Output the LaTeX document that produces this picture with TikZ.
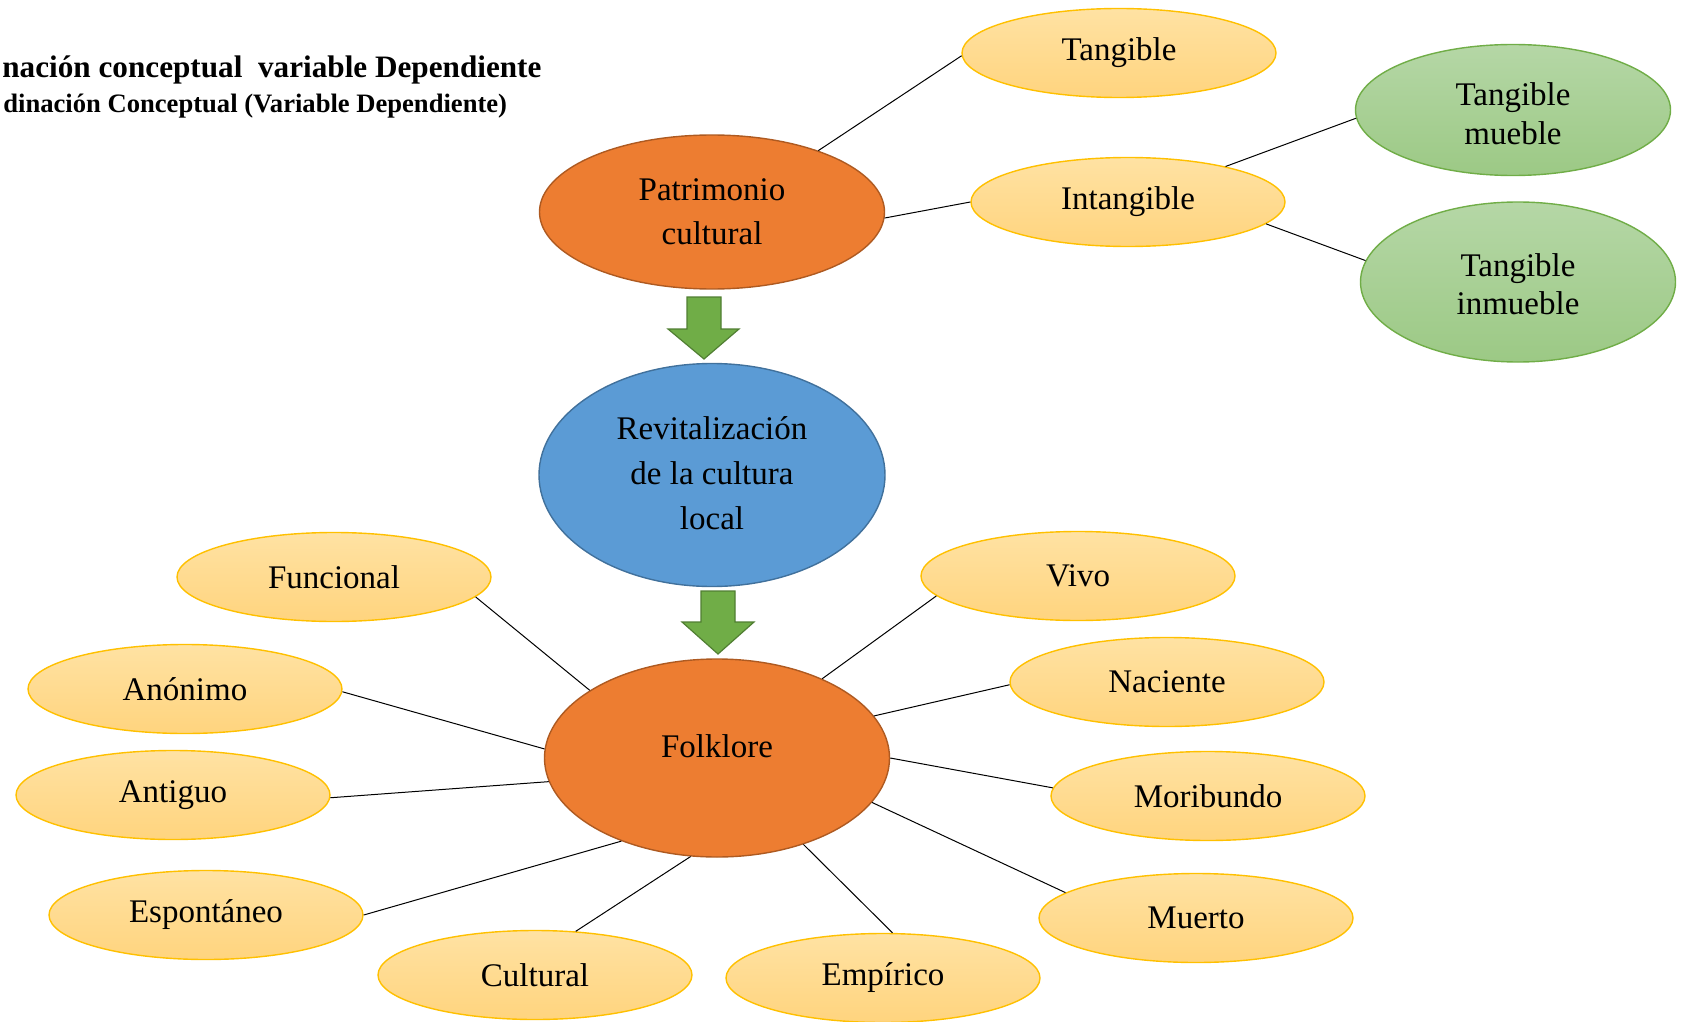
\documentclass[tikz,border=0pt]{standalone}
\usepackage{fontspec}
\setmainfont{Liberation Serif}
\usetikzlibrary{shapes.geometric}
\definecolor{orfill}{HTML}{ED7D31}
\definecolor{ordraw}{HTML}{AE5A21}
\definecolor{leaftop}{HTML}{FFE2A3}
\definecolor{leafbot}{HTML}{FFD47E}
\definecolor{leafdraw}{HTML}{FFC000}
\definecolor{grtop}{HTML}{B5D7A6}
\definecolor{grbot}{HTML}{9CC985}
\definecolor{grdraw}{HTML}{70AD47}
\definecolor{blfill}{HTML}{5B9BD5}
\definecolor{bldraw}{HTML}{41719C}
\definecolor{arfill}{HTML}{70AD47}
\definecolor{ardraw}{HTML}{507E32}
\begin{document}
\begin{tikzpicture}[x=0.5pt,y=-0.5pt,
  base/.style={ellipse, inner sep=0pt, align=center, font=\fontsize{16.5}{20}\selectfont, line width=0.7pt},
  leaf/.style={base, top color=leaftop, bottom color=leafbot, draw=leafdraw, minimum width=157pt, minimum height=44.5pt},
  green/.style={base, top color=grtop, bottom color=grbot, draw=grdraw, minimum width=157.5pt},
  orange/.style={base, fill=orfill, draw=ordraw, minimum width=172.5pt},
  blue/.style={base, fill=blfill, draw=bldraw, minimum width=173pt, minimum height=111.5pt},
  txt/.style={inner sep=0pt, align=center, font=\fontsize{16.5}{20}\selectfont},
  link/.style={draw=black, line width=0.5pt},
  blockarrow/.style={fill=arfill, draw=ardraw, line width=0.6pt}
]
\useasboundingbox (0,0) rectangle (1682,1022);

% title
\node[anchor=west, inner sep=0pt, font=\bfseries\fontsize{15.6}{19}\selectfont] (title1) at (2,70) {nación conceptual\ \ variable Dependiente};
\node[anchor=west, inner sep=0pt, font=\bfseries\fontsize{13.3}{16}\selectfont] (title2) at (3,106) {dinación Conceptual (Variable Dependiente)};

% upper part
\node[orange, minimum height=77pt, font=\fontsize{16.5}{22}\selectfont] (pat) at (712,212) {Patrimonio\\cultural};
\node[leaf] (tang) at (1119,53) {Tangible};
\node[leaf] (intang) at (1128,202) {Intangible};
\node[green, minimum height=65.5pt] (mueble) at (1513,110) {};
\node[txt, font=\fontsize{16.5}{19.3}\selectfont] (muebletext) at (1513,114) {Tangible\\mueble};
\node[green, minimum height=80pt] (inmueble) at (1518,282) {};
\node[txt, font=\fontsize{16.5}{18.8}\selectfont] (inmuebletext) at (1518,284) {Tangible\\inmueble};

\draw[link] (pat.30) -- (tang.181);
\draw[link] (pat.-2) -- (intang.180);
\draw[link] (intang.20.6) -- (mueble.183);
\draw[link] (intang.-9.5) -- (inmueble.172.7);

% arrow 1
\draw[blockarrow] (687,297) -- (721,297) -- (721,329) -- (739,329) -- (704,359) -- (668,329) -- (687,329) -- cycle;

% middle
\node[blue] (revit) at (712,475) {};
\node[txt, font=\fontsize{16.5}{22.5}\selectfont] (revittext) at (712,473) {Revitalización\\de la cultura\\local};

% arrow 2
\draw[blockarrow] (701,591) -- (735,591) -- (735,622) -- (754,622) -- (718,654) -- (682,622) -- (701,622) -- cycle;

% folklore
\node[orange, minimum height=99pt] (folk) at (717,758) {};
\node[txt] (folktext) at (717,746) {Folklore};

\node[leaf] (funcional) at (334,577) {Funcional};
\node[leaf] (anonimo) at (185,689) {Anónimo};
\node[leaf] (antiguo) at (173,795) {Antiguo};
\node[leaf] (espontaneo) at (206,915) {Espontáneo};
\node[leaf] (cultural) at (535,975) {Cultural};
\node[leaf] (empirico) at (883,978) {Empírico};
\node[leaf] (vivo) at (1078,576) {Vivo};
\node[leaf] (naciente) at (1167,682) {Naciente};
\node[leaf] (moribundo) at (1208,796) {Moribundo};
\node[leaf] (muerto) at (1196,918) {Muerto};

\draw[link] (folk.152.4) -- (funcional.-8.1);
\draw[link] (folk.177.5) -- (anonimo.-1.2);
\draw[link] (folk.188) -- (antiguo.-1.6);
\draw[link] (folk.221.6) -- (espontaneo.0.4);
\draw[link] (folk.255.7) -- (cultural.47);
\draw[link] (folk.-45) -- (empirico.78);
\draw[link] (folk.37) -- (vivo.188.6);
\draw[link] (folk.15.5) -- (naciente.181.2);
\draw[link] (folk.0.3) -- (moribundo.177.6);
\draw[link] (folk.-16.9) -- (muerto.169.9);
\end{tikzpicture}
\end{document}
